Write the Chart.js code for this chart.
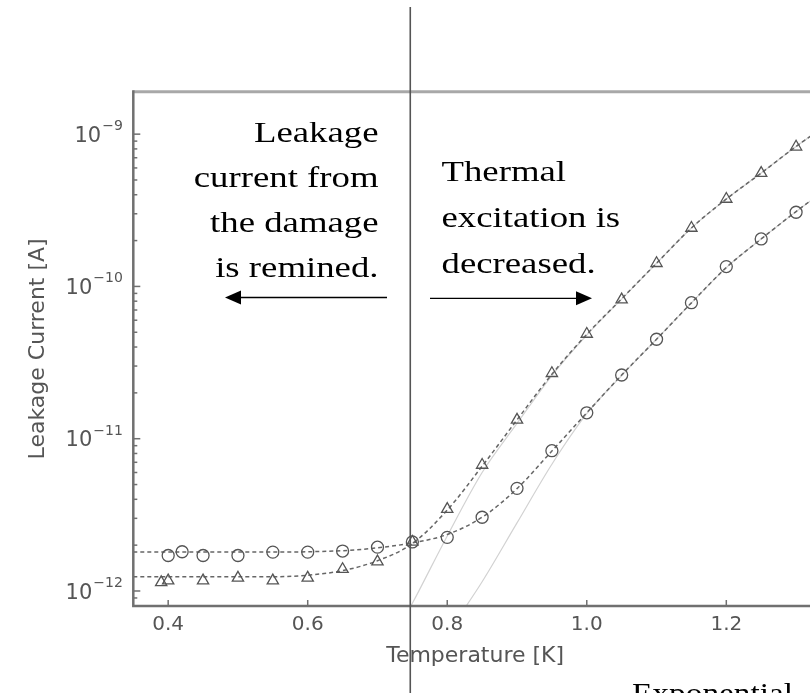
<!DOCTYPE html>
<html><head><meta charset="utf-8">
<script src="https://cdn.jsdelivr.net/npm/chart.js@4.4.1/dist/chart.umd.min.js"></script>
<style>
html,body{margin:0;padding:0;overflow:hidden;background:#fff;width:810px;height:693px}
#wrap{position:absolute;left:0;top:0;width:830px;height:693px}
</style>
</head><body><div id="wrap"><canvas id="c" width="830" height="693"></canvas></div>
<script>
// ---- data ----
const circleTemperature = [0.40,0.42,0.45,0.50,0.55,0.60,0.65,0.70,0.75,0.80,0.85,0.90,0.95,1.00,1.05,1.10,1.15,1.20,1.25,1.30];
const circleCurrent = [1.71e-12,1.81e-12,1.71e-12,1.71e-12,1.80e-12,1.80e-12,1.83e-12,1.94e-12,2.10e-12,2.25e-12,3.05e-12,4.72e-12,8.34e-12,1.48e-11,2.62e-11,4.50e-11,7.82e-11,1.35e-10,2.05e-10,3.07e-10];

const triangleTemperature = [0.39,0.40,0.45,0.50,0.55,0.60,0.65,0.70,0.75,0.80,0.85,0.90,0.95,1.00,1.05,1.10,1.15,1.20,1.25,1.30];
const triangleCurrent = [1.14e-12,1.17e-12,1.17e-12,1.22e-12,1.17e-12,1.22e-12,1.39e-12,1.56e-12,2.10e-12,3.45e-12,6.72e-12,1.33e-11,2.69e-11,4.87e-11,8.2e-11,1.42e-10,2.42e-10,3.75e-10,5.55e-10,8.26e-10];

const fitTemperature = [0.35,0.40,0.45,0.50,0.55,0.60,0.65,0.70,0.75,0.80,0.85,0.90,0.95,1.00,1.05,1.10,1.15,1.20,1.25,1.30,1.35];
const fitCircle = [1.80e-12,1.80e-12,1.80e-12,1.80e-12,1.80e-12,1.81e-12,1.84e-12,1.92e-12,2.07e-12,2.35e-12,3.05e-12,4.70e-12,8.3e-12,1.48e-11,2.62e-11,4.5e-11,7.8e-11,1.33e-10,2.05e-10,3.1e-10,4.6e-10];
const fitTriangle = [1.24e-12,1.24e-12,1.24e-12,1.24e-12,1.24e-12,1.27e-12,1.36e-12,1.58e-12,2.05e-12,3.4e-12,6.6e-12,1.33e-11,2.65e-11,4.85e-11,8.3e-11,1.42e-10,2.42e-10,3.75e-10,5.55e-10,8.3e-10,1.2e-9];

const expTemperatureTriangle = [0.70,0.75,0.80,0.85,0.90,0.95,1.00,1.05,1.10,1.15,1.20,1.25,1.30,1.35];
const expTriangle = [3.2e-13,8.3e-13,2.3e-12,6.0e-12,1.26e-11,2.6e-11,4.8e-11,8.25e-11,1.42e-10,2.42e-10,3.75e-10,5.55e-10,8.3e-10,1.2e-9];
const expTemperatureCircle = [0.75,0.80,0.85,0.90,0.95,1.00,1.05,1.10,1.15,1.20,1.25,1.30,1.35];
const expCircle = [2.3e-13,5.2e-13,1.15e-12,2.8e-12,6.8e-12,1.46e-11,2.6e-11,4.5e-11,7.8e-11,1.33e-10,2.05e-10,3.1e-10,4.6e-10];

const xTickValues = [0.4,0.6,0.8,1.0,1.2];
const xTickLabels = ['0.4','0.6','0.8','1.0','1.2'];
const yTickValues = [1e-12,1e-11,1e-10,1e-9];
const yTickBase = '10';
const yTickExponents = ['\u221212','\u221211','\u221210','\u22129'];

const dividerTemperature = 0.747;
const leftNote = ['Leakage','current from','the damage','is remined.'];
const rightNote = ['Thermal','excitation is','decreased.'];
const bottomNote = 'Exponential';

// ---- helpers ----
const pts = (xs, ys) => xs.map((x, i) => ({x, y: ys[i]}));
const tickFont = {family: 'DejaVu Sans', size: 20};
const titleFont = {family: 'DejaVu Sans', size: 22};
const grayText = '#555';

const decor = {
  id: 'decor',
  afterDraw(chart) {
    const {ctx, chartArea: a, scales: {x, y}} = chart;
    ctx.save();
    // frame
    ctx.lineCap = 'butt';
    ctx.strokeStyle = '#a8a8a8'; ctx.lineWidth = 3;
    ctx.beginPath(); ctx.moveTo(a.left, a.top); ctx.lineTo(a.right, a.top); ctx.stroke();
    ctx.strokeStyle = '#707070'; ctx.lineWidth = 2.5;
    ctx.beginPath(); ctx.moveTo(a.left, a.top - 1.5); ctx.lineTo(a.left, a.bottom); ctx.lineTo(a.right, a.bottom); ctx.stroke();
    // ticks (inward)
    ctx.strokeStyle = '#707070'; ctx.lineWidth = 1.5;
    xTickValues.forEach(v => {
      const px = x.getPixelForValue(v);
      ctx.beginPath(); ctx.moveTo(px, a.bottom); ctx.lineTo(px, a.bottom - 6); ctx.stroke();
    });
    for (let d = -13; d <= -9; d++) {
      for (let k = 1; k <= 9; k++) {
        const v = k * Math.pow(10, d);
        if (v < y.min || v > y.max) continue;
        const py = y.getPixelForValue(v);
        ctx.beginPath(); ctx.moveTo(a.left, py); ctx.lineTo(a.left + (k === 1 ? 7 : 4), py); ctx.stroke();
      }
    }
    // y tick labels, mathtext style
    ctx.fillStyle = grayText;
    ctx.textBaseline = 'alphabetic';
    ctx.textAlign = 'right';
    const labelRight = a.left - 10.5;
    yTickValues.forEach((v, i) => {
      const py = y.getPixelForValue(v);
      ctx.font = '14px "DejaVu Sans"';
      const ew = ctx.measureText(yTickExponents[i]).width;
      ctx.fillText(yTickExponents[i], labelRight, py - 4);
      ctx.font = '21px "DejaVu Sans"';
      ctx.fillText(yTickBase, labelRight - ew - 1, py + 7.7);
    });
    // divider line
    const dx = x.getPixelForValue(dividerTemperature);
    ctx.strokeStyle = '#555'; ctx.lineWidth = 1.6;
    ctx.beginPath(); ctx.moveTo(dx, 7); ctx.lineTo(dx, chart.height); ctx.stroke();
    // notes
    ctx.fillStyle = '#000';
    ctx.font = '28.5px "Liberation Serif", "Times New Roman", serif';
    ctx.textBaseline = 'alphabetic';
    const sx = 1.29;
    const leftBase = [141.7, 186.5, 231.7, 276.7];
    leftNote.forEach((t, i) => {
      ctx.save(); ctx.translate(378.5, leftBase[i]); ctx.scale(sx, 1);
      ctx.textAlign = 'right'; ctx.fillText(t, 0, 0); ctx.restore();
    });
    const rightBase = [181, 226.7, 272.7];
    rightNote.forEach((t, i) => {
      ctx.save(); ctx.translate(441.5, rightBase[i]); ctx.scale(sx, 1);
      ctx.textAlign = 'left'; ctx.fillText(t, 0, 0); ctx.restore();
    });
    ctx.save(); ctx.translate(632, 702.5); ctx.scale(1.17, 1);
    ctx.textAlign = 'left'; ctx.fillText(bottomNote, 0, 0); ctx.restore();
    // arrows
    const arrow = (x0, x1, yy) => {
      const dir = Math.sign(x1 - x0);
      ctx.strokeStyle = '#000'; ctx.lineWidth = 1.3;
      ctx.beginPath(); ctx.moveTo(x0, yy); ctx.lineTo(x1 - dir * 14, yy); ctx.stroke();
      ctx.beginPath(); ctx.moveTo(x1, yy); ctx.lineTo(x1 - dir * 16, yy - 7); ctx.lineTo(x1 - dir * 16, yy + 7); ctx.closePath(); ctx.fill();
    };
    arrow(387, 225, 297.5);
    arrow(430, 592, 298.3);
    ctx.restore();
  }
};

const markerColor = '#555';
new Chart(document.getElementById('c'), {
  type: 'scatter',
  data: {
    datasets: [
      {label: 'triangles', data: pts(triangleTemperature, triangleCurrent), showLine: false,
       pointStyle: 'triangle', pointRadius: 6.5, pointBorderColor: markerColor, pointBackgroundColor: 'rgba(0,0,0,0)', pointBorderWidth: 1.3},
      {label: 'circles', data: pts(circleTemperature, circleCurrent), showLine: false,
       pointStyle: 'circle', pointRadius: 6, pointBorderColor: markerColor, pointBackgroundColor: 'rgba(0,0,0,0)', pointBorderWidth: 1.3},
      {label: 'fit circles', data: pts(fitTemperature, fitCircle), showLine: true, pointRadius: 0,
       borderColor: '#666', borderWidth: 1.5, borderDash: [4, 3], cubicInterpolationMode: 'monotone', fill: false},
      {label: 'fit triangles', data: pts(fitTemperature, fitTriangle), showLine: true, pointRadius: 0,
       borderColor: '#666', borderWidth: 1.5, borderDash: [4, 3], cubicInterpolationMode: 'monotone', fill: false},
      {label: 'exp triangles', data: pts(expTemperatureTriangle, expTriangle), showLine: true, pointRadius: 0,
       borderColor: '#d2d2d2', borderWidth: 1.2, cubicInterpolationMode: 'monotone', fill: false},
      {label: 'exp circles', data: pts(expTemperatureCircle, expCircle), showLine: true, pointRadius: 0,
       borderColor: '#d2d2d2', borderWidth: 1.2, cubicInterpolationMode: 'monotone', fill: false}
    ]
  },
  options: {
    responsive: false, animation: false, events: [],
    layout: {padding: {top: 91.7, left: 0, right: 13, bottom: 0}},
    plugins: {legend: {display: false}, tooltip: {enabled: false}},
    scales: {
      x: {
        type: 'linear', min: 0.35, max: 1.33,
        grid: {display: false, drawTicks: false}, border: {display: false},
        afterBuildTicks: s => { s.ticks = xTickValues.map(v => ({value: v})); },
        afterFit: s => { s.height = 87; },
        ticks: {font: tickFont, color: grayText, padding: 7, maxRotation: 0, autoSkip: false,
                callback: (v) => xTickLabels[xTickValues.findIndex(t => Math.abs(t - v) < 1e-9)]},
        title: {display: true, text: 'Temperature [K]', font: titleFont, color: grayText, padding: {top: 0, bottom: 24}}
      },
      y: {
        type: 'logarithmic', min: 7.97e-13, max: 1.9e-9,
        grid: {display: false, drawTicks: false}, border: {display: false},
        afterBuildTicks: s => { s.ticks = yTickValues.map(v => ({value: v})); },
        afterFit: s => { s.width = 133.3; },
        ticks: {display: false},
        title: {display: true, text: 'Leakage Current [A]', font: titleFont, color: grayText, padding: {top: 25, bottom: 0}}
      }
    }
  },
  plugins: [decor]
});
</script>
</body></html>
